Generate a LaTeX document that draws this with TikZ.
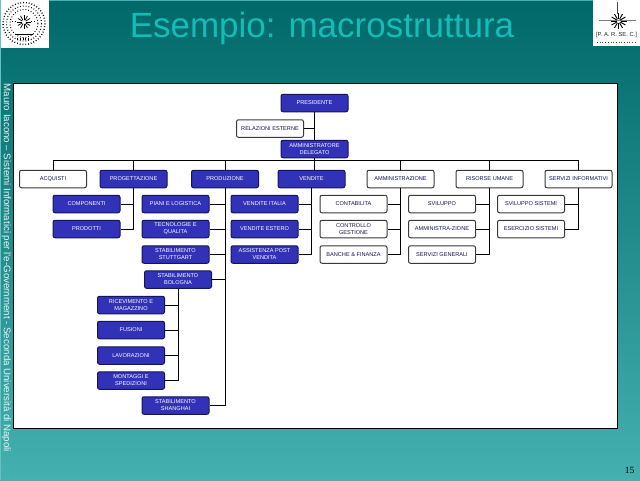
\documentclass[tikz,border=0pt]{standalone}
\usepackage{fontspec}
\setmainfont{Liberation Sans}
\newfontfamily\serifnum{Liberation Serif}
\usetikzlibrary{calc}
\definecolor{bluebox}{HTML}{3232B8}
\definecolor{navyline}{HTML}{15155E}
\definecolor{navytext}{HTML}{12124F}
\definecolor{greyline}{HTML}{3A3A3A}
\definecolor{titlecol}{HTML}{12BDB8}
\definecolor{bgtop}{HTML}{006868}
\definecolor{bgbot}{HTML}{44B0B0}
\tikzset{
  x=1pt,y=-1pt,
  orgbox/.style={rounded corners=2pt,minimum width=67pt,minimum height=17.5pt,inner sep=0pt,
    align=center,font=\fontsize{5.6}{7}\selectfont,line width=1pt},
  bluenode/.style={orgbox,fill=bluebox,draw=navyline,text=white},
  whitenode/.style={orgbox,fill=white,draw=greyline,text=navytext},
  wire/.style={draw=black,line width=1pt},
  sealmark/.style={draw=black,line width=0.8pt},
}
\begin{document}
\begin{tikzpicture}
\useasboundingbox (0,0) rectangle (640,480);
\shade[top color=bgtop,bottom color=bgbot] (0,0) rectangle (640,480);
\fill[bgbot] (0,0) rectangle (640,1);
\fill[bgbot!80!white] (0,0) rectangle (1,480);
% panel
\fill[white] (13.5,83.5) rectangle (617.5,428.5);
\draw[black,line width=1pt] (13.5,428.5) -- (13.5,83.5) -- (617.5,83.5) -- (617.5,428.5) -- cycle;
% title and side text
\node[text=titlecol,font=\fontsize{35}{38}\selectfont,inner sep=0pt] (title) at (322,28.5) {Esempio: macrostruttura};
\node[rotate=-90,text=white!88!bgbot,font=\fontsize{9.7}{11}\selectfont,inner sep=0pt] (side) at (6.5,268) {Mauro Iacono -- Sistemi Informatici per l'e-Government - Seconda Università di Napoli};
\node[font=\serifnum\fontsize{9.5}{11}\selectfont,text=black,inner sep=0pt] (pagenum) at (629.5,470.5) {15};
% left logo
\fill[white] (1,0) rectangle (49,48);
\draw[sealmark,dotted,line width=1.4pt] (24,23.5) circle (21);
\draw[sealmark,dotted,line width=1.1pt] (24,23.5) circle (17.5);
\draw[sealmark,dotted,line width=1pt] (24,23.5) circle (14);
\foreach \a in {0,30,...,330}{\draw[sealmark,line width=0.7pt] ($(24,22)+(\a:2)$) -- ($(24,22)+(\a:7)$);}
\draw[sealmark,dotted,line width=1pt] (12,21) -- (17,21) (31,21) -- (36,21);
\draw[sealmark,line width=0.5pt] (15,34.5) -- (33,34.5);
\draw[sealmark,dotted,line width=1.3pt] (17,39) -- (31,39);
% right logo
\fill[white] (593,0) rectangle (640,46);
\draw[black!70,line width=0.4pt] (617.5,2) -- (617.5,14);
\draw[black!50,line width=0.4pt] (599,20) -- (636,20);
\foreach \a in {0,30,...,330}{\draw[black,line width=0.9pt] ($(618.5,21)+(\a:2)$) -- ($(618.5,21)+(\a:8)$);}
\node[font=\fontsize{5.8}{6}\selectfont,text=black!85,inner sep=0pt] (parsec) at (616.5,35) {[P. A. R. SE. C.]};
\draw[black!70,dotted,line width=0.7pt] (597,42) -- (636,42);
% nodes
\node[bluenode] (pres) at (314.5,103) {PRESIDENTE};
\node[whitenode] (rel) at (270,128.5) {RELAZIONI ESTERNE};
\node[bluenode] (ad) at (314.5,149) {AMMINISTRATORE\\DELEGATO};
\node[whitenode] (acq) at (53,179) {ACQUISTI};
\node[bluenode] (prog) at (133.5,179) {PROGETTAZIONE};
\node[bluenode] (prod) at (225,179) {PRODUZIONE};
\node[bluenode] (vend) at (311.5,179) {VENDITE};
\node[whitenode] (amm) at (400.5,179) {AMMINISTRAZIONE};
\node[whitenode] (ris) at (489.5,179) {RISORSE UMANE};
\node[whitenode] (ser) at (578.5,179) {SERVIZI INFORMATIVI};
\node[bluenode] (comp) at (86.5,204) {COMPONENTI};
\node[bluenode] (prd) at (86.5,229) {PRODOTTI};
\node[bluenode] (piani) at (175.5,204) {PIANI  E LOGISTICA};
\node[bluenode] (tec) at (175.5,229) {TECNOLOGIE E\\QUALITA};
\node[bluenode] (stu) at (175.5,254.5) {STABILIMENTO\\STUTTGART};
\node[bluenode] (bol) at (178,279.5) {STABILIMENTO\\BOLOGNA};
\node[bluenode] (ric) at (131,305) {RICEVIMENTO E\\MAGAZZINO};
\node[bluenode] (fus) at (131,330) {FUSIONI};
\node[bluenode] (lav) at (131,355.5) {LAVORAZIONI};
\node[bluenode] (mon) at (131,380.5) {MONTAGGI E\\SPEDIZIONI};
\node[bluenode] (sha) at (175.5,405.5) {STABILIMENTO\\SHANGHAI};
\node[bluenode] (vit) at (264.5,204) {VENDITE ITALIA};
\node[bluenode] (ves) at (264.5,229) {VENDITE ESTERO};
\node[bluenode] (ass) at (264.5,254.5) {ASSISTENZA POST\\VENDITA};
\node[whitenode] (con) at (353.5,204) {CONTABILITA};
\node[whitenode] (ctr) at (353.5,229) {CONTROLLO\\GESTIONE};
\node[whitenode] (ban) at (353.5,254.5) {BANCHE \& FINANZA};
\node[whitenode] (svi) at (442,204) {SVILUPPO};
\node[whitenode] (adm) at (442,229) {AMMINISTRA-ZIONE};
\node[whitenode] (sgen) at (442,254.5) {SERVIZI GENERALI};
\node[whitenode] (sis) at (531,204) {SVILUPPO SISTEMI};
\node[whitenode] (esi) at (531,229) {ESERCIZIO SISTEMI};
% connectors
\coordinate (busL) at (53,160.5);
\coordinate (busR) at (578.5,160.5);
\coordinate (vtop) at (314.5,160.5);
\draw[wire] (pres.south) -- (ad.north);
\draw[wire] (rel.east) -- (rel.east -| pres.south);
\draw[wire] (ad.south) -- (ad.south |- busL);
\draw[wire] (busL) -- (busR);
\draw[wire] (acq.north) -- (busL);
\draw[wire] (prog.north) -- (prog.north |- busL);
\draw[wire] (prod.north) -- (prod.north |- busL);
\draw[wire] (vtop) -- (vtop |- vend.north);
\draw[wire] (amm.north) -- (amm.north |- busL);
\draw[wire] (ris.north) -- (ris.north |- busL);
\draw[wire] (ser.north) -- (busR);
% progettazione
\draw[wire] (prog.south) |- (prd.east);
\draw[wire] (comp.east) -- (comp.east -| prog.south);
% produzione
\draw[wire] (prod.south) |- (sha.east);
\foreach \n in {piani,tec,stu,bol}{\draw[wire] (\n.east) -- (\n.east -| prod.south);}
% bologna
\draw[wire] (bol.south) |- (mon.east);
\foreach \n in {ric,fus,lav}{\draw[wire] (\n.east) -- (\n.east -| bol.south);}
% vendite
\draw[wire] (vend.south) |- (ass.east);
\foreach \n in {vit,ves}{\draw[wire] (\n.east) -- (\n.east -| vend.south);}
% amministrazione
\draw[wire] (amm.south) |- (ban.east);
\foreach \n in {con,ctr}{\draw[wire] (\n.east) -- (\n.east -| amm.south);}
% risorse
\draw[wire] (ris.south) |- (sgen.east);
\foreach \n in {svi,adm}{\draw[wire] (\n.east) -- (\n.east -| ris.south);}
% servizi
\draw[wire] (ser.south) |- (esi.east);
\draw[wire] (sis.east) -- (sis.east -| ser.south);
\end{tikzpicture}
\end{document}
